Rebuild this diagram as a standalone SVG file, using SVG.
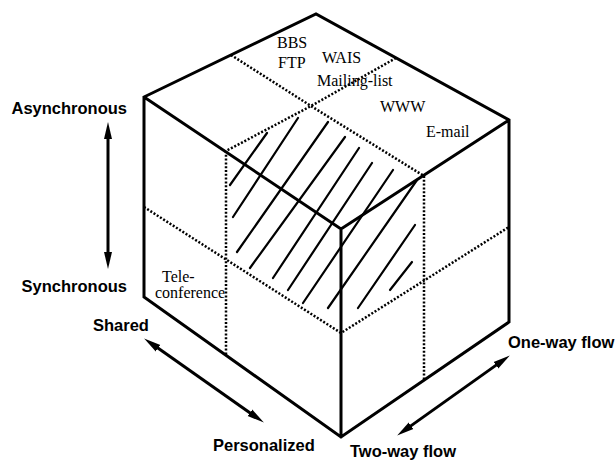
<svg xmlns="http://www.w3.org/2000/svg" width="616" height="460" viewBox="0 0 616 460">
<style>
.edge{fill:none;stroke:#000;stroke-width:3;stroke-linejoin:miter;stroke-linecap:round}
.dot{fill:none;stroke:#000;stroke-width:2.5;stroke-dasharray:2 1.8}
.hatch{stroke:#000;stroke-width:2.2;stroke-linecap:round}
.arr{stroke:#000;stroke-width:3;fill:none}
.sans{font-family:"Liberation Sans",Arial,sans-serif;font-weight:bold;font-size:16.5px;fill:#000}
.serif{font-family:"Liberation Serif","Times New Roman",serif;font-size:16px;fill:#000}
</style>
<defs>
<marker id="ah" markerUnits="userSpaceOnUse" markerWidth="18" markerHeight="10" refX="8" refY="4" orient="auto-start-reverse" viewBox="0 0 18 8">
<path d="M0,0 L17,4 L0,8 z" fill="#000"/>
</marker>
</defs>
<rect width="616" height="460" fill="#fff"/>
<g id="grid">
<polyline class="dot" points="231,55 311,106 424,176"/>
<polyline class="dot" points="396,58 311,106 226,151"/>
<line class="dot" x1="226" y1="151" x2="226" y2="355"/>
<line class="dot" x1="424" y1="176" x2="424" y2="380"/>
<polyline class="dot" points="144,207 341,333 509,227"/>
</g>
<g id="hatching">
<line class="hatch" x1="230" y1="185" x2="267" y2="133"/>
<line class="hatch" x1="233" y1="217" x2="298" y2="118"/>
<line class="hatch" x1="237" y1="252" x2="328" y2="122"/>
<line class="hatch" x1="250" y1="268" x2="345" y2="137"/>
<line class="hatch" x1="273" y1="278" x2="359" y2="148"/>
<line class="hatch" x1="288" y1="290" x2="372" y2="163"/>
<line class="hatch" x1="303" y1="303" x2="393" y2="170"/>
<line class="hatch" x1="328" y1="308" x2="417" y2="180"/>
<line class="hatch" x1="358" y1="308" x2="415" y2="225"/>
<line class="hatch" x1="390" y1="290" x2="412" y2="262"/>
</g>
<g id="cube">
<path class="edge" d="M144,97 L316,14 L509,120 L509,322 L341,437 L144,297 Z M144,97 L341,229 L509,120 M341,229 L341,437"/>
</g>
<g id="connectors">
<line class="arr" x1="108" y1="131" x2="108" y2="260" marker-start="url(#ah)" marker-end="url(#ah)"/>
<line class="arr" x1="151.5" y1="343.6" x2="256.5" y2="417.4" marker-start="url(#ah)" marker-end="url(#ah)"/>
<line class="arr" x1="502.5" y1="360.6" x2="404.5" y2="430.4" marker-start="url(#ah)" marker-end="url(#ah)"/>
</g>
<g id="labels">
<text class="sans" x="127" y="114" text-anchor="end">Asynchronous</text>
<text class="sans" x="127" y="292" text-anchor="end">Synchronous</text>
<text class="sans" x="93" y="331">Shared</text>
<text class="sans" x="213" y="451">Personalized</text>
<text class="sans" x="350" y="457">Two-way flow</text>
<text class="sans" x="508" y="348">One-way flow</text>
</g>
<g id="items">
<text class="serif" x="277" y="48">BBS</text>
<text class="serif" x="278" y="68">FTP</text>
<text class="serif" x="322" y="63">WAIS</text>
<text class="serif" x="317" y="86">Mailing-list</text>
<text class="serif" x="380" y="112">WWW</text>
<text class="serif" x="426" y="137">E-mail</text>
<text class="serif" x="162" y="282">Tele-</text>
<text class="serif" x="155" y="298">conference</text>
</g>
</svg>
